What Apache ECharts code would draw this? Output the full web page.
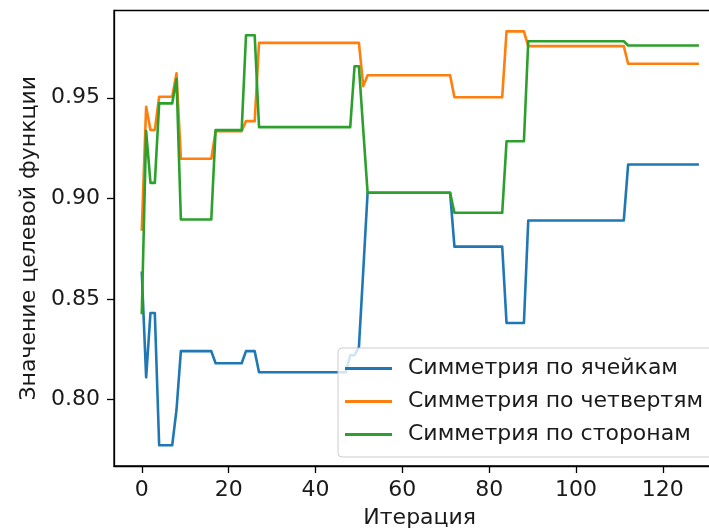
<!DOCTYPE html>
<html>
<head>
<meta charset="utf-8">
<script src="https://cdn.jsdelivr.net/npm/echarts@6/dist/echarts.min.js"></script>
<style>
  html, body { margin: 0; padding: 0; background: #fff; overflow: hidden; }
  #chart { width: 740px; height: 530px; }
</style>
</head>
<body>
<div id="chart"></div>
<script>
// Objective value per iteration for three symmetry strategies (iterations 0..128)
const seriesNames = ['Симметрия по ячейкам', 'Симметрия по четвертям', 'Симметрия по сторонам'];

const cellsValues = [
  0.863, 0.811, 0.843, 0.843, 0.7772, 0.7772, 0.7772, 0.7772, 0.795,            // 0-8
  0.824, 0.824, 0.824, 0.824, 0.824, 0.824, 0.824, 0.824,                         // 9-16
  0.818, 0.818, 0.818, 0.818, 0.818, 0.818, 0.818,                                // 17-23
  0.824, 0.824, 0.824,                                                            // 24-26
  0.8135, 0.8135, 0.8135, 0.8135, 0.8135, 0.8135, 0.8135, 0.8135, 0.8135, 0.8135, // 27-36
  0.8135, 0.8135, 0.8135, 0.8135, 0.8135, 0.8135, 0.8135, 0.8135, 0.8135, 0.8135, // 37-46
  0.8135,                                                                         // 47
  0.822, 0.822, 0.826, 0.864,                                                     // 48-51
  0.9028, 0.9028, 0.9028, 0.9028, 0.9028, 0.9028, 0.9028, 0.9028, 0.9028, 0.9028, // 52-61
  0.9028, 0.9028, 0.9028, 0.9028, 0.9028, 0.9028, 0.9028, 0.9028, 0.9028, 0.9028, // 62-71
  0.876, 0.876, 0.876, 0.876, 0.876, 0.876, 0.876, 0.876, 0.876, 0.876, 0.876, 0.876, // 72-83
  0.838, 0.838, 0.838, 0.838, 0.838,                                              // 84-88
  0.889, 0.889, 0.889, 0.889, 0.889, 0.889, 0.889, 0.889, 0.889, 0.889,           // 89-98
  0.889, 0.889, 0.889, 0.889, 0.889, 0.889, 0.889, 0.889, 0.889, 0.889,           // 99-108
  0.889, 0.889, 0.889,                                                            // 109-111
  0.9168, 0.9168, 0.9168, 0.9168, 0.9168, 0.9168, 0.9168, 0.9168, 0.9168,         // 112-120
  0.9168, 0.9168, 0.9168, 0.9168, 0.9168, 0.9168, 0.9168, 0.9168                  // 121-128
];

const quartersValues = [
  0.8845, 0.9455, 0.934, 0.934, 0.9505, 0.9505, 0.9505, 0.9505, 0.9622,           // 0-8
  0.9197, 0.9197, 0.9197, 0.9197, 0.9197, 0.9197, 0.9197, 0.9197,                 // 9-16
  0.9334, 0.9334, 0.9334, 0.9334, 0.9334, 0.9334, 0.9334,                         // 17-23
  0.9384, 0.9384, 0.9384,                                                         // 24-26
  0.9773, 0.9773, 0.9773, 0.9773, 0.9773, 0.9773, 0.9773, 0.9773, 0.9773, 0.9773, // 27-36
  0.9773, 0.9773, 0.9773, 0.9773, 0.9773, 0.9773, 0.9773, 0.9773, 0.9773, 0.9773, // 37-46
  0.9773, 0.9773, 0.9773, 0.9773,                                                 // 47-50
  0.9558,                                                                         // 51
  0.9612, 0.9612, 0.9612, 0.9612, 0.9612, 0.9612, 0.9612, 0.9612, 0.9612, 0.9612, // 52-61
  0.9612, 0.9612, 0.9612, 0.9612, 0.9612, 0.9612, 0.9612, 0.9612, 0.9612, 0.9612, // 62-71
  0.9503, 0.9503, 0.9503, 0.9503, 0.9503, 0.9503, 0.9503, 0.9503, 0.9503, 0.9503, 0.9503, 0.9503, // 72-83
  0.983, 0.983, 0.983, 0.983, 0.983,                                              // 84-88
  0.9757, 0.9757, 0.9757, 0.9757, 0.9757, 0.9757, 0.9757, 0.9757, 0.9757, 0.9757, // 89-98
  0.9757, 0.9757, 0.9757, 0.9757, 0.9757, 0.9757, 0.9757, 0.9757, 0.9757, 0.9757, // 99-108
  0.9757, 0.9757, 0.9757,                                                         // 109-111
  0.9669, 0.9669, 0.9669, 0.9669, 0.9669, 0.9669, 0.9669, 0.9669, 0.9669,         // 112-120
  0.9669, 0.9669, 0.9669, 0.9669, 0.9669, 0.9669, 0.9669, 0.9669                  // 121-128
];

const sidesValues = [
  0.843, 0.9334, 0.9077, 0.9077, 0.9472, 0.9472, 0.9472, 0.9472, 0.9594,          // 0-8
  0.8895, 0.8895, 0.8895, 0.8895, 0.8895, 0.8895, 0.8895, 0.8895,                 // 9-16
  0.9339, 0.9339, 0.9339, 0.9339, 0.9339, 0.9339, 0.9339,                         // 17-23
  0.9811, 0.9811, 0.9811,                                                         // 24-26
  0.9354, 0.9354, 0.9354, 0.9354, 0.9354, 0.9354, 0.9354, 0.9354, 0.9354, 0.9354, // 27-36
  0.9354, 0.9354, 0.9354, 0.9354, 0.9354, 0.9354, 0.9354, 0.9354, 0.9354, 0.9354, // 37-46
  0.9354, 0.9354,                                                                 // 47-48
  0.9657, 0.9657, 0.934,                                                          // 49-51
  0.9028, 0.9028, 0.9028, 0.9028, 0.9028, 0.9028, 0.9028, 0.9028, 0.9028, 0.9028, // 52-61
  0.9028, 0.9028, 0.9028, 0.9028, 0.9028, 0.9028, 0.9028, 0.9028, 0.9028, 0.9028, // 62-71
  0.8928, 0.8928, 0.8928, 0.8928, 0.8928, 0.8928, 0.8928, 0.8928, 0.8928, 0.8928, 0.8928, 0.8928, // 72-83
  0.9284, 0.9284, 0.9284, 0.9284, 0.9284,                                         // 84-88
  0.9781, 0.9781, 0.9781, 0.9781, 0.9781, 0.9781, 0.9781, 0.9781, 0.9781, 0.9781, // 89-98
  0.9781, 0.9781, 0.9781, 0.9781, 0.9781, 0.9781, 0.9781, 0.9781, 0.9781, 0.9781, // 99-108
  0.9781, 0.9781, 0.9781,                                                         // 109-111
  0.976, 0.976, 0.976, 0.976, 0.976, 0.976, 0.976, 0.976, 0.976,                  // 112-120
  0.976, 0.976, 0.976, 0.976, 0.976, 0.976, 0.976, 0.976                          // 121-128
];

const xTickValues = [0, 20, 40, 60, 80, 100, 120];
const yTickValues = [0.80, 0.85, 0.90, 0.95];

const colors = ['#1f77b4', '#ff7f0e', '#2ca02c'];
const FONT = 'DejaVu Sans';
const FONT_SIZE = 22;
const TEXT_COLOR = '#1a1a1a';

function toPoints(values) {
  return values.map((v, i) => [i, v]);
}

const chart = echarts.init(document.getElementById('chart'), null, { renderer: 'canvas' });

chart.setOption({
  animation: false,
  backgroundColor: '#ffffff',
  textStyle: { fontFamily: FONT },
  grid: {
    left: 114, top: 10.5, right: 14.6, bottom: 64,
    show: true, borderColor: '#000', borderWidth: 1.3,
    containLabel: false, outerBoundsMode: 'none'
  },
  xAxis: {
    type: 'value', min: -6.4, max: 134.4,
    name: 'Итерация', nameLocation: 'middle', nameGap: 41,
    nameTextStyle: { fontSize: FONT_SIZE, color: TEXT_COLOR, fontFamily: FONT },
    axisLine: { show: true, onZero: false, lineStyle: { color: '#000', width: 1.3 } },
    axisTick: { show: true, length: 7, customValues: xTickValues, lineStyle: { color: '#000', width: 1.3 } },
    axisLabel: { customValues: xTickValues, fontSize: FONT_SIZE, color: TEXT_COLOR, fontFamily: FONT, margin: 13,
                 formatter: v => String(Math.round(v)) },
    splitLine: { show: false }
  },
  yAxis: {
    type: 'value', min: 0.7669, max: 0.9934,
    name: 'Значение целевой функции', nameLocation: 'middle', nameGap: 71, nameRotate: 90,
    nameTextStyle: { fontSize: FONT_SIZE, color: TEXT_COLOR, fontFamily: FONT },
    axisLine: { show: true, onZero: false, lineStyle: { color: '#000', width: 1.3 } },
    axisTick: { show: true, length: 7, customValues: yTickValues, lineStyle: { color: '#000', width: 1.3 } },
    axisLabel: { customValues: yTickValues, fontSize: FONT_SIZE, color: TEXT_COLOR, fontFamily: FONT, margin: 14,
                 formatter: v => v.toFixed(2) },
    splitLine: { show: false }
  },
  legend: {
    orient: 'vertical', left: 338, top: 348,
    padding: [8, 12, 10, 7], itemGap: 8,
    itemWidth: 47, itemHeight: 3, icon: 'rect',
    backgroundColor: 'rgba(255,255,255,0.8)',
    borderColor: '#cccccc', borderWidth: 1, borderRadius: 4,
    textStyle: { fontSize: FONT_SIZE, color: TEXT_COLOR, fontFamily: FONT, lineHeight: 25, padding: [0, 0, 0, 11] },
    z: 10
  },
  series: [cellsValues, quartersValues, sidesValues].map((vals, k) => ({
    name: seriesNames[k],
    type: 'line',
    data: toPoints(vals),
    showSymbol: false,
    symbol: 'none',
    silent: true,
    color: colors[k],
    lineStyle: { width: 2.6, color: colors[k], cap: 'square', join: 'round' }
  }))
});
</script>
</body>
</html>
